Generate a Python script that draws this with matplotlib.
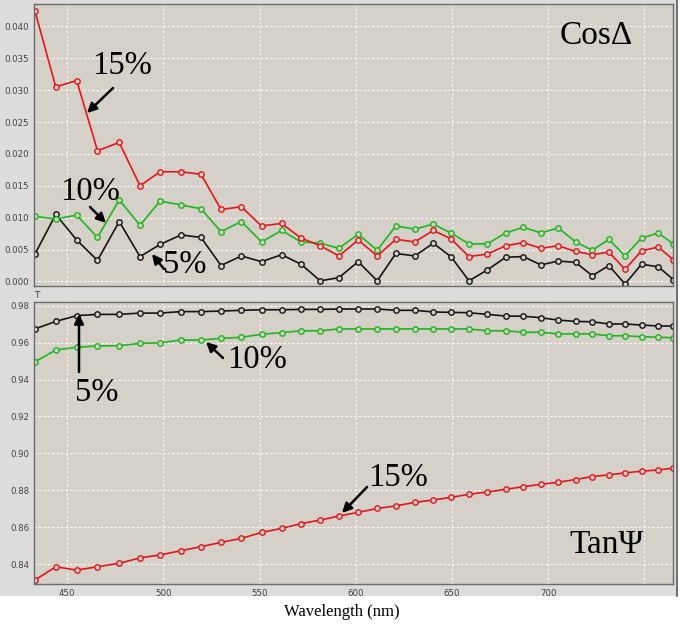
import matplotlib
matplotlib.use("Agg")
import matplotlib.pyplot as plt
from matplotlib.patches import Rectangle, FancyArrowPatch
from matplotlib.lines import Line2D

# ---------------- data ----------------
wavelength = [433.2, 444.0, 454.9, 465.7, 477.0, 487.8, 498.2, 509.1, 519.5, 529.9,
              540.5, 551.0, 561.4, 571.5, 581.5, 591.2, 601.2, 611.1, 620.8, 630.7,
              640.2, 649.4, 658.8, 668.3, 677.9, 687.0, 696.2, 705.2, 714.2, 722.9,
              731.5, 739.9, 748.5, 757.2, 765.0]

cos_15 = [0.0424, 0.0305, 0.0315, 0.0205, 0.0218, 0.0150, 0.0172, 0.0172, 0.0168, 0.0113,
          0.0117, 0.0087, 0.0091, 0.0068, 0.0056, 0.0040, 0.0065, 0.0040, 0.0066, 0.0062,
          0.0080, 0.0067, 0.0039, 0.0043, 0.0056, 0.0061, 0.0052, 0.0056, 0.0047, 0.0042,
          0.0046, 0.0019, 0.0048, 0.0054, 0.0034]
cos_10 = [0.0102, 0.0098, 0.0104, 0.0069, 0.0128, 0.0088, 0.0126, 0.0120, 0.0114, 0.0078,
          0.0094, 0.0062, 0.0080, 0.0062, 0.0060, 0.0052, 0.0074, 0.0049, 0.0087, 0.0082,
          0.0090, 0.0076, 0.0059, 0.0059, 0.0076, 0.0085, 0.0076, 0.0084, 0.0062, 0.0049,
          0.0066, 0.0040, 0.0068, 0.0076, 0.0059]
cos_5 = [0.0043, 0.0105, 0.0065, 0.0033, 0.0094, 0.0039, 0.0058, 0.0073, 0.0069, 0.0025,
         0.0040, 0.0031, 0.0042, 0.0027, 0.0001, 0.0006, 0.0031, 0.0001, 0.0044, 0.0040,
         0.0060, 0.0039, 0.0001, 0.0018, 0.0038, 0.0039, 0.0026, 0.0032, 0.0030, 0.0009,
         0.0025, -0.0004, 0.0027, 0.0023, 0.0003]

tan_15 = [0.8313, 0.8385, 0.8367, 0.8385, 0.8404, 0.8433, 0.8449, 0.8472, 0.8494, 0.8517,
          0.8539, 0.8571, 0.8593, 0.8619, 0.8638, 0.8660, 0.8680, 0.8701, 0.8715, 0.8734,
          0.8747, 0.8761, 0.8778, 0.8790, 0.8805, 0.8819, 0.8832, 0.8843, 0.8858, 0.8874,
          0.8883, 0.8894, 0.8903, 0.8910, 0.8919]
tan_10 = [0.9496, 0.9560, 0.9575, 0.9582, 0.9583, 0.9596, 0.9599, 0.9614, 0.9614, 0.9623,
          0.9629, 0.9645, 0.9654, 0.9664, 0.9664, 0.9674, 0.9674, 0.9674, 0.9674, 0.9674,
          0.9674, 0.9674, 0.9674, 0.9664, 0.9664, 0.9656, 0.9656, 0.9647, 0.9647, 0.9647,
          0.9637, 0.9637, 0.9632, 0.9629, 0.9626]
tan_5 = [0.9674, 0.9715, 0.9746, 0.9753, 0.9753, 0.9760, 0.9760, 0.9768, 0.9768, 0.9771,
         0.9775, 0.9778, 0.9778, 0.9780, 0.9780, 0.9782, 0.9782, 0.9782, 0.9775, 0.9775,
         0.9766, 0.9764, 0.9762, 0.9753, 0.9744, 0.9743, 0.9735, 0.9722, 0.9715, 0.9713,
         0.9701, 0.9701, 0.9695, 0.9690, 0.9690]

x_ticks = [450, 500, 550, 600, 650, 700, 750]
x_tick_labels = ["450", "500", "550", "600", "650", "700", ""]
cos_ticks = [0.000, 0.005, 0.010, 0.015, 0.020, 0.025, 0.030, 0.035, 0.040]
tan_ticks = [0.84, 0.86, 0.88, 0.90, 0.92, 0.94, 0.96, 0.98]

RED = "#e3151b"
GREEN = "#1fb51f"
BLACK = "#141414"
PLOT_BG = "#d5d1c9"
FRAME_BG = "#dcdcdc"
W, H = 680, 628

fig = plt.figure(figsize=(6.8, 6.28), dpi=100, facecolor="white")

# window frame (behind everything)
frame = Rectangle((0, 32 / H), 677 / W, 1 - 32 / H, transform=fig.transFigure,
                  facecolor=FRAME_BG, edgecolor="none", zorder=-10)
fig.patches.append(frame)
fig.add_artist(Line2D([677 / W, 677 / W], [32 / H, 1], transform=fig.transFigure,
                      color="#5a5a5a", lw=1.2, zorder=-5))


def fx(px):
    return px / W


def fy(py):
    return 1 - py / H


ax1 = fig.add_axes([fx(34), fy(286), fx(673.3) - fx(34), fy(4) - fy(286)])
ax2 = fig.add_axes([fx(34), fy(584), fx(673.3) - fx(34), fy(301.7) - fy(584)])

for ax in (ax1, ax2):
    ax.set_zorder(1)
    ax.set_facecolor(PLOT_BG)
    ax.set_xlim(432.7, 765.0)
    ax.set_xticks(x_ticks)
    ax.grid(True, color="white", linestyle=(0, (2, 2)), linewidth=0.8, alpha=0.9)
    ax.set_axisbelow(True)
    for s in ax.spines.values():
        s.set_color("#6a6a6a")
        s.set_linewidth(1.0)
    ax.tick_params(length=0, labelsize=6.2, labelcolor="#444444", pad=3.5)

mk = dict(marker="o", markersize=3.9, markerfacecolor=PLOT_BG, markeredgewidth=1.0,
          linewidth=1.2, clip_on=True)

ax1.plot(wavelength, cos_5, color=BLACK, **mk)
ax1.plot(wavelength, cos_10, color=GREEN, **mk)
ax1.plot(wavelength, cos_15, color=RED, **mk)
ax1.set_ylim(-0.00071, 0.0435)
ax1.set_yticks(cos_ticks)
ax1.set_yticklabels([f"{v:.3f}" for v in cos_ticks])
ax1.set_xticklabels([])

ax2.plot(wavelength, tan_5, color=BLACK, **mk)
ax2.plot(wavelength, tan_10, color=GREEN, **mk)
ax2.plot(wavelength, tan_15, color=RED, **mk)
ax2.set_ylim(0.82916, 0.98217)
ax2.set_yticks(tan_ticks)
ax2.set_yticklabels([f"{v:.2f}" for v in tan_ticks])
ax2.set_xticklabels(x_tick_labels)

fig.text(fx(37), fy(295), "T", fontsize=6.5, color="#3a3a3a", ha="center", va="center",
         zorder=5)

SERIF = ["Liberation Serif", "DejaVu Serif"]


def label(txt, cx, cy, size=23.5):
    fig.text(fx(cx), fy(cy), txt, fontsize=size, family=SERIF, ha="center", va="center",
             color="black", zorder=5)


def arrow(tail, head):
    fig.add_artist(FancyArrowPatch(
        (fx(tail[0]), fy(tail[1])), (fx(head[0]), fy(head[1])),
        transform=fig.transFigure, arrowstyle="-|>", mutation_scale=14,
        color="black", lw=1.8, shrinkA=0, shrinkB=0, zorder=5))


label("15%", 122.5, 65.5)
arrow((113, 88), (87, 113))
label("10%", 90, 191.5)
arrow((90, 207), (106, 223))
label("5%", 185, 265)
arrow((164, 269), (152, 254))
label("Cos\u0394", 596.5, 36, 24)

label("5%", 97, 392.5)
arrow((79, 372), (79, 314))
label("10%", 257.5, 360)
arrow((223, 358), (206, 342))
label("15%", 398, 477.5)
arrow((367, 487), (342, 513))
label("Tan\u03a8", 607, 544.5, 24)

fig.text(fx(342), fy(612), "Wavelength (nm)", fontsize=12, family=SERIF,
         ha="center", va="center", zorder=5)

fig.savefig("out.png", dpi=100, facecolor="white")
